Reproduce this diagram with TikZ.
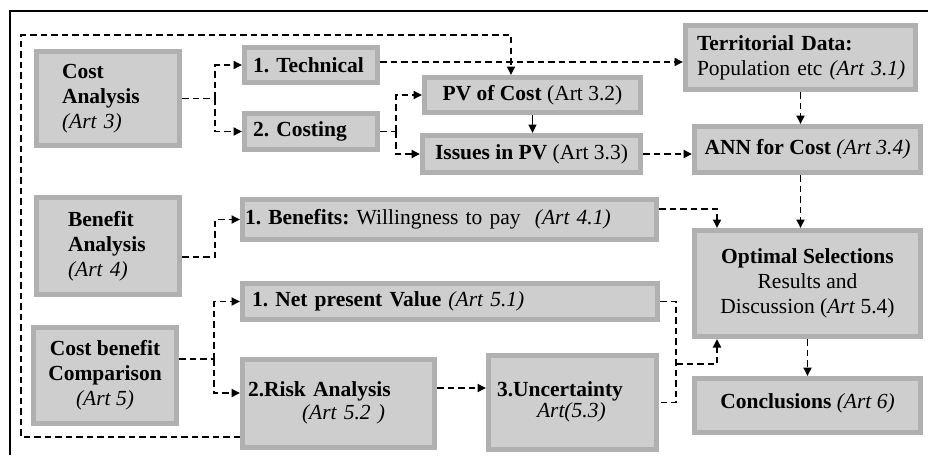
\documentclass[tikz,border=0pt]{standalone}
\usepackage{fontspec}
\setmainfont{Liberation Serif}
\usetikzlibrary{arrows.meta}
\definecolor{boxfill}{RGB}{206,206,206}
\definecolor{boxline}{RGB}{176,176,176}
\begin{document}
\begin{tikzpicture}[x=1pt,y=-1pt,
  box/.style={draw=boxline, fill=boxfill, line width=5pt, inner sep=0pt,
              font=\fontsize{21.5}{25}\selectfont\frenchspacing},
  dl/.style={dash pattern=on 6.5pt off 4pt, line width=1.8pt},
  da/.style={dl, -{Triangle[length=8.5pt,width=8pt]}},
  sa/.style={line width=1.6pt, -{Triangle[length=8.5pt,width=8pt]}}]
\useasboundingbox (0,0) rectangle (928,455);
\draw[line width=2pt] (10,455) -- (10,11) -- (928,11);

% boxes
\node[box, minimum width=143pt, minimum height=94pt, text width=92pt, align=left] (ca) at (108,98.5)
  {\textbf{Cost}\\\textbf{Analysis}\\\textit{(Art 3)}};
\node[box, minimum width=133pt, minimum height=35pt, text width=116pt, align=left] (tech) at (311,65)
  {\textbf{1. Technical}};
\node[box, minimum width=133pt, minimum height=36pt, text width=116pt, align=left] (costing) at (311,131.5)
  {\textbf{2. Costing}};
\node[box, minimum width=216pt, minimum height=35pt] (pv) at (532.5,95)
  {\textbf{PV of Cost} (Art 3.2)};
\node[box, minimum width=218pt, minimum height=37pt] (issues) at (531.5,154)
  {\textbf{Issues in PV} (Art 3.3)};
\node[box, minimum width=230pt, minimum height=64pt, text width=207pt, align=left] (terr) at (800.5,57.5)
  {\mbox{\textbf{Territorial Data:}}\\\mbox{Population etc \textit{(Art 3.1)}}};
\node[box, minimum width=226pt, minimum height=46pt] (ann) at (807.5,149.5)
  {\textbf{ANN for Cost} \textit{(Art 3.4)}};
\node[box, minimum width=143pt, minimum height=97pt, text width=80pt, align=left] (ba) at (108,246)
  {\textbf{Benefit}\\\textbf{Analysis}\\\textit{(Art 4)}};
\node[box, minimum width=414pt, minimum height=40pt, text width=409pt, align=left] (ben) at (449.5,219.5)
  {\textbf{1. Benefits:} Willingness to pay\ \ \textit{(Art 4.1)}};
\node[box, minimum width=415pt, minimum height=36pt, text width=396pt, align=left] (npv) at (450,301.5)
  {\textbf{1. Net present Value} \textit{(Art 5.1)}};
\node[box, minimum width=143pt, minimum height=96pt, align=center] (cb) at (105,375.5)
  {\textbf{Cost benefit}\\\textbf{Comparison}\\\textit{(Art 5)}};
\node[box, minimum width=192pt, minimum height=88pt, text width=181pt, align=left] (risk) at (338.5,403.5)
  {\raisebox{6pt}{\def\arraystretch{0.92}\begin{tabular}{@{}l@{}}\textbf{2.Risk Analysis}\\\hspace*{54pt}\textit{(Art 5.2 )}\end{tabular}}};
\node[box, minimum width=168pt, minimum height=94pt, text width=151pt, align=left] (unc) at (572.5,402.5)
  {\raisebox{11pt}{\def\arraystretch{0.85}\begin{tabular}{@{}l@{}}\textbf{3.Uncertainty}\\\hspace*{40pt}\textit{Art(5.3)}\end{tabular}}};
\node[box, minimum width=226pt, minimum height=106pt] (opt) at (807.5,283.5)
  {\raisebox{3pt}{\begin{tabular}{@{}c@{}}\textbf{Optimal Selections}\\Results and\\Discussion (\textit{Art} 5.4)\end{tabular}}};
\node[box, minimum width=226pt, minimum height=54pt] (conc) at (807.5,405.5)
  {\raisebox{8pt}{\textbf{Conclusions} \textit{(Art 6)}}};

% junction coordinates
\coordinate (jA) at (215,0);
\coordinate (jB) at (396,0);
\coordinate (jD) at (214,0);
\coordinate (jE) at (676,0);
\coordinate (jF) at (0,364);
\coordinate (lb) at (0,437);
\coordinate (lt) at (21,35);
\coordinate (baOut) at ([yshift=-11pt]ba.east);
\coordinate (cbOut) at ([yshift=16.5pt]cb.east);
\coordinate (rOut) at ([yshift=15.5pt]risk.east);
\coordinate (benOut) at ([yshift=10.5pt]ben.east);
\coordinate (riskIn) at ([yshift=10.5pt]risk.west);
\coordinate (techOut) at ([yshift=3pt]tech.east);
\coordinate (pvDrop) at ([xshift=-21.5pt]pv.north);
\coordinate (optIn1) at ([xshift=-90.5pt]opt.north);
\coordinate (optIn2) at ([xshift=-90.5pt]opt.south);

% connectors
\draw[dl] (ca.east) -- (ca.east -| jA);
\draw[da] (ca.east -| jA) |- (tech.west);
\draw[da] (ca.east -| jA) |- (costing.west);
\draw[da] (techOut) -- (techOut -| terr.west);
\draw[dl] (costing.east) -- (costing.east -| jB);
\draw[da] (costing.east -| jB) |- (pv.west);
\draw[da] (costing.east -| jB) |- (issues.west);
\draw[sa] (pv.south) -- (pv.south |- issues.north);
\draw[da] (issues.east) -- (issues.east -| ann.west);
\draw[da] (terr.south) -- (terr.south |- ann.north);
\draw[da] (terr.south |- ann.south) -- (terr.south |- opt.north);
\draw[da] (benOut) -| (optIn1);
\draw[da] (baOut) -| (jA |- ben.west) -- (ben.west);
\draw[dl] (cbOut) -- (cbOut -| jD);
\draw[da] (cbOut -| jD) |- (npv.west);
\draw[da] (cbOut -| jD) |- (riskIn);
\draw[da] (risk.west |- lb) -| (lt) -| (pvDrop);
\draw[da] (rOut) -- (rOut -| unc.west);
\draw[dl] (npv.east) -| (jE |- unc.east) -- (unc.east);
\draw[da] (jE |- jF) -| (optIn2);
\draw[da] (opt.south) -- (opt.south |- conc.north);
\end{tikzpicture}
\end{document}
